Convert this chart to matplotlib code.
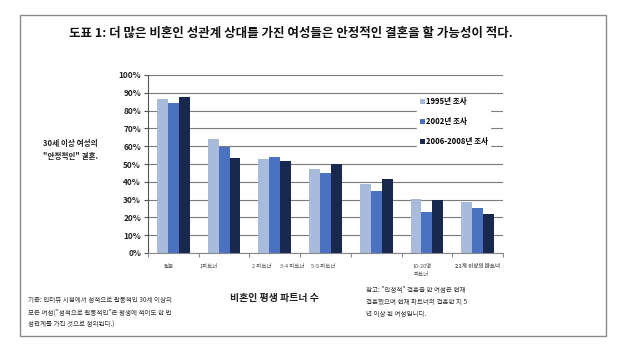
import matplotlib
matplotlib.use("Agg")
import matplotlib.pyplot as plt
from matplotlib.patches import Rectangle
import numpy as np

plt.rcParams['font.family'] = ['Noto Sans CJK KR', 'DejaVu Sans']

categories = ["없음", "1파트너", "2 파트너", "3-4 파트너", "5-9 파트너", "10-20명\n파트너", "21개 이상의 파트너"]
series_names = ["1995년 조사", "2002년 조사", "2006-2008년 조사"]
v1995 = [86.5, 64.0, 53.0, 47.0, 38.5, 30.2, 28.5]
v2002 = [84.5, 59.5, 54.0, 45.0, 34.8, 23.2, 25.2]
v2008 = [87.5, 53.5, 51.5, 50.0, 41.8, 29.5, 21.8]
yticks = [0, 10, 20, 30, 40, 50, 60, 70, 80, 90, 100]

colors = ["#A8BBDA", "#4A72C0", "#18284F"]

fig = plt.figure(figsize=(6.3, 3.58), dpi=100)
fig.patch.set_facecolor("white")

# border
fig.add_artist(Rectangle((20/630, 1-336/358), 586/630, 321/358, transform=fig.transFigure,
                         fill=False, edgecolor="#8a8a8a", linewidth=1.0))

ax = fig.add_axes([148/630, 1-253/358, 355/630, 178/358])
x = np.arange(len(categories))
w = 0.215
for i, (vals, c, n) in enumerate(zip([v1995, v2002, v2008], colors, series_names)):
    ax.bar(x + (i-1)*w, vals, width=w, color=c, label=n, zorder=3)

ax.set_xlim(-0.5, len(categories)-0.5)
ax.set_ylim(0, 100)
ax.set_yticks(yticks)
ax.set_yticklabels([f"{t}%" for t in yticks], fontsize=6, fontweight="bold", color="#222")
ax.yaxis.grid(True, color="#7a7a7a", linewidth=0.8, zorder=0)
for s in ["top", "right"]:
    ax.spines[s].set_visible(False)
ax.spines["left"].set_color("#555")
ax.spines["bottom"].set_color("#888")
ax.tick_params(axis="y", length=3, color="#555", pad=2)
ax.set_xticks(np.arange(len(categories)+1)-0.5)
ax.set_xticklabels([])
ax.tick_params(axis="x", length=3, color="#888", direction="out")

# category labels (as placed in the original)
label_offsets = [-0.1, -0.3, -0.25, -0.65, -1.05, -0.1, 0.0]
for i, (cat, off) in enumerate(zip(categories, label_offsets)):
    ax.text(i + off, -6, cat, ha="center", va="top", fontsize=4,
            color="#555", fontweight="bold" if i == 6 else "normal",
            transform=ax.transData, clip_on=False, linespacing=1.8)

leg = ax.legend(loc="upper right", bbox_to_anchor=(0.975, 0.91), frameon=True, fontsize=5.5,
                handlelength=0.7, handleheight=0.7, handletextpad=0.1, labelspacing=1.45,
                borderpad=0.3, edgecolor="white", framealpha=1, fancybox=False)
for t in leg.get_texts():
    t.set_fontweight("bold")

fig.text(291/630, 1-33/358, "도표 1: 더 많은 비혼인 성관계 상대를 가진 여성들은 안정적인 결혼을 할 가능성이 적다.",
         ha="center", va="center", fontsize=9, fontweight="bold", color="#111")
fig.text(70/630, 1-150/358, "30세 이상 여성의\n\"안정적인\" 결혼.", ha="center", va="center",
         fontsize=5.5, fontweight="bold", color="#222", linespacing=1.5)
fig.text(274/630, 1-298/358, "비혼인 평생 파트너 수", ha="center", va="center",
         fontsize=7.1, fontweight="bold", color="#222")
fig.text(28/630, 1-296/358,
         "기준: 인터뷰 시점에서 성적으로 활동적인 30세 이상의\n모든 여성(\"성적으로 활동적인\"은 평생에 적어도 한 번\n성관계를 가진 것으로 정의된다.)",
         ha="left", va="top", fontsize=4.7, color="#333", linespacing=1.7)
fig.text(366/630, 1-286/358,
         "참고: \"안정적\" 결혼을 한 여성은 현재\n결혼했으며 현재 파트너와 결혼한 지 5\n년 이상 된 여성입니다.",
         ha="left", va="top", fontsize=4.7, color="#333", linespacing=1.7)

fig.savefig("out.png", dpi=100)
